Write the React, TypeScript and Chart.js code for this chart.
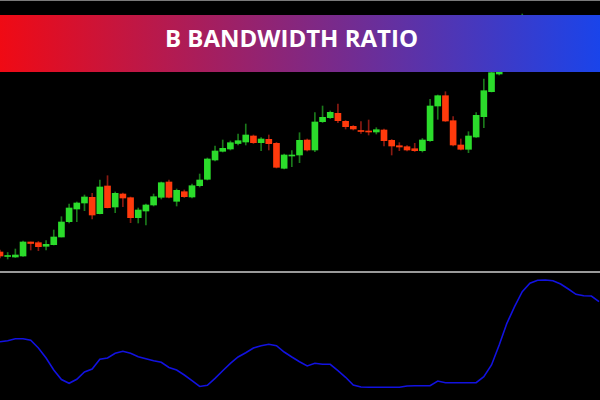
import React, { useEffect, useRef } from "react";
import { Chart, registerables } from "chart.js";

Chart.register(...registerables);

// Candle OHLC values (arbitrary price units), one per bar
const opens = [
  19, 14.5, 14, 15, 29, 28.3, 24.7, 26.3, 34, 49.3, 62, 68, 73.7, 57.3, 85, 64, 77, 73.3, 53.3, 60,
  66, 73.7, 89, 69.7, 79.3, 74, 85.3, 91.7, 111, 119.7, 122, 127.5, 129, 135, 128.3, 131.7, 127.7, 102.7, 115, 116,
  131, 121, 149.3, 153.3, 157.7, 149.7, 144.7, 140.5, 140, 139, 141, 130.7, 125.3, 124.3, 122.3, 120.3, 130.3, 165, 175.3, 150.3,
  126, 121.7, 134, 154.3, 179.3, 197, 201, 213, 231, 249, 236, 223, 241, 226, 216, 231, 241, 227,
];
const highs = [
  21, 18.5, 22, 30, 29, 29.5, 30.3, 41, 54.3, 67, 69, 76, 77.7, 91, 95.3, 79, 78, 74, 63, 67,
  77, 89, 91, 82, 81, 87, 97, 113, 125, 131, 130, 137, 147, 136, 133.5, 136, 128.5, 117, 120.3, 138.3,
  132, 158.3, 165, 160, 167, 150.5, 145.5, 149.3, 151, 143.3, 142, 131.5, 128.3, 125.3, 127.7, 132.5, 171.7, 176, 179.3, 154.3,
  132, 139.3, 158.3, 192, 199, 201, 216, 235, 257, 251, 241, 243, 246, 231, 238, 247, 245, 249,
];
const lows = [
  13, 12, 13.5, 14.5, 21, 20.3, 21, 26, 34, 48, 49.3, 60.3, 52, 57, 63, 58.3, 64.3, 48.3, 48, 46,
  65, 72, 73, 65, 73.5, 73, 84, 91, 110, 119, 121, 126, 126, 127.5, 120.3, 121, 103, 102, 104.3, 108.3,
  120, 119.3, 148.5, 152.5, 148.3, 142, 141, 137.7, 136, 137, 125, 116, 120.3, 120, 119.5, 119, 129.5, 151.7, 149.5, 125,
  121, 118.3, 133.5, 143.3, 179, 196, 200, 211, 229, 231, 219, 219, 221, 209, 211, 226, 223, 221,
];
const closes = [
  15, 15.5, 16, 29, 27.5, 24.3, 26.7, 34, 49, 63, 68, 74, 56, 84, 63.3, 77.7, 73, 53.3, 61, 66,
  74.3, 88.3, 73.7, 80.7, 74.3, 85.3, 91, 112, 120, 122.7, 128.3, 130.3, 136, 128.3, 132, 127.3, 103.7, 116, 116, 130.7,
  121, 149, 153.7, 158.7, 150.3, 144.3, 142, 139.5, 139, 141.3, 130.3, 125, 124, 121, 120.3, 131, 165, 175.3, 150, 126,
  121.7, 135, 155.7, 180.3, 198.3, 199.3, 213, 231, 249, 236, 221, 241, 226, 213, 233, 241, 229, 243,
];

// Bandwidth ratio indicator (lower pane)
const bandwidth = [
  58.3, 59.3, 61.2, 61.3, 59.7, 52, 42, 30, 20.5, 16.7, 20.7, 28, 31, 40.7, 42, 46.7, 48.7, 46.7, 43.3, 41.3,
  39.3, 37.7, 32.5, 30, 25, 19.3, 13.5, 14.7, 21.7, 29.3, 36.7, 43, 47.3, 52, 54.3, 55.7, 54.3, 48, 43, 38.3,
  34, 36.7, 35.7, 35.7, 29.3, 22.7, 15, 13, 12.7, 12.7, 12.7, 12.7, 12.7, 14, 14.3, 14.3, 14.3, 19, 17.3, 17.3,
  17.3, 17.3, 17.3, 23.3, 35, 55, 76.7, 93.3, 108.3, 116.7, 119.7, 120, 119.3, 116, 111, 105.7, 104.3, 104, 98.3,
];

const TITLE = "B BANDWIDTH RATIO";
const UP_BODY = "#2bdc2b";
const DOWN_BODY = "#ff3a0c";
const UP_WICK = "#1b7a1b";
const DOWN_WICK = "#8a1a12";
const X_MAX = 78.125;

function CandlePane() {
  const ref = useRef<HTMLCanvasElement | null>(null);
  useEffect(() => {
    if (!ref.current) return;
    const up = opens.map((o, i) => closes[i] >= o);
    const chart = new Chart(ref.current, {
      type: "bar",
      data: {
        datasets: [
          {
            label: "body",
            data: opens.map((o, i) => ({ x: i, y: [o, closes[i]] })) as any,
            backgroundColor: up.map((u) => (u ? UP_BODY : DOWN_BODY)),
            borderWidth: 0,
            barThickness: 6,
            grouped: false,
            order: 0,
          } as any,
          {
            label: "wick",
            data: lows.map((l, i) => ({ x: i, y: [l, highs[i]] })) as any,
            backgroundColor: up.map((u) => (u ? UP_WICK : DOWN_WICK)),
            borderWidth: 0,
            barThickness: 1,
            grouped: false,
            order: 1,
          } as any,
        ],
      },
      options: {
        animation: false,
        responsive: false,
        layout: { padding: 0 },
        plugins: { legend: { display: false }, tooltip: { enabled: false } },
        scales: {
          x: { type: "linear", min: 0, max: X_MAX, display: false, offset: false },
          y: { type: "linear", min: 0, max: 271, display: false },
        },
      },
    });
    return () => chart.destroy();
  }, []);
  return <canvas ref={ref} width={600} height={271} style={{ width: 600, height: 271, display: "block" }} />;
}

function IndicatorPane() {
  const ref = useRef<HTMLCanvasElement | null>(null);
  useEffect(() => {
    if (!ref.current) return;
    const chart = new Chart(ref.current, {
      type: "line",
      data: {
        datasets: [
          {
            label: "bandwidth",
            data: bandwidth.map((v, i) => ({ x: i, y: v })),
            borderColor: "#1212e0",
            borderWidth: 1.6,
            pointRadius: 0,
            tension: 0,
            fill: false,
          },
        ],
      },
      options: {
        animation: false,
        responsive: false,
        layout: { padding: 0 },
        plugins: { legend: { display: false }, tooltip: { enabled: false } },
        scales: {
          x: { type: "linear", min: 0, max: X_MAX, display: false },
          y: { type: "linear", min: 0, max: 127, display: false },
        },
      },
    });
    return () => chart.destroy();
  }, []);
  return <canvas ref={ref} width={600} height={127} style={{ width: 600, height: 127, display: "block" }} />;
}

export default function App() {
  return (
    <div style={{ position: "fixed", left: 0, top: 0, width: 600, height: 400, background: "#000", overflow: "hidden" }}>
      <div style={{ position: "absolute", left: 0, top: 0 }}>
        <CandlePane />
      </div>
      <div style={{ position: "absolute", left: 0, top: 0, width: 600, height: 1, background: "#7a7a7a" }} />
      <div style={{ position: "absolute", left: 0, top: 271, width: 600, height: 2, background: "#9a9a9a" }} />
      <div style={{ position: "absolute", left: 0, top: 273 }}>
        <IndicatorPane />
      </div>
      <div
        style={{
          position: "absolute",
          left: 0,
          top: 15,
          width: 600,
          height: 57,
          background: "linear-gradient(to right, #f00a14, #1a44ea)",
        }}
      />
      <div
        style={{
          position: "absolute",
          left: 0,
          top: 26,
          width: 583,
          textAlign: "center",
          color: "#fff",
          fontFamily: "'Open Sans', sans-serif",
          fontWeight: 700,
          fontSize: 24,
          lineHeight: "24px",
          whiteSpace: "nowrap",
        }}
      >
        {TITLE}
      </div>
    </div>
  );
}
